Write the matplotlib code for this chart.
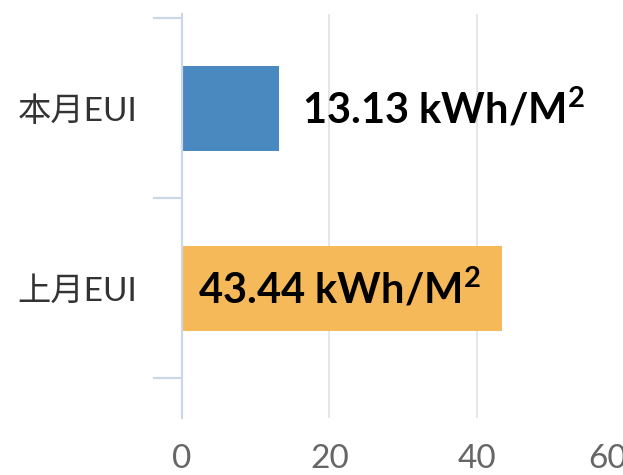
import matplotlib
matplotlib.use("Agg")
import matplotlib.pyplot as plt
from matplotlib.transforms import offset_copy, ScaledTranslation

categories = ["本月EUI", "上月EUI"]
values = [13.13, 43.44]
value_texts = ["13.13", "43.44"]
unit_text = r" kWh/M$^{\mathbf{2}}$"
colors = ["#4a88c0", "#f6b95a"]
x_ticks = [0, 20, 40, 60]

plt.rcParams['font.family'] = ['Lato', 'Noto Sans CJK SC', 'DejaVu Sans']
plt.rcParams['mathtext.fontset'] = 'custom'
plt.rcParams['mathtext.rm'] = 'Lato'
plt.rcParams['mathtext.bf'] = 'Lato:bold'

W, H = 623, 475
fig = plt.figure(figsize=(W / 100, H / 100), dpi=100)
left_px, right_px, top_px, bot_px = 182, 624, 14, 418
ax = fig.add_axes([left_px / W, 1 - bot_px / H, (right_px - left_px) / W, (bot_px - top_px) / H])

ypos = list(range(len(categories)))
ax.barh(ypos, values, height=0.47, color=colors, zorder=3)

ax.set_xlim(0, 60)
ax.set_ylim(1.72, -0.525)

for s in ["top", "right", "bottom"]:
    ax.spines[s].set_visible(False)
ax.spines["left"].set_color("#ccd6eb")
ax.spines["left"].set_linewidth(1.6)
ax.spines["left"].set_zorder(4)

ax.set_xticks(x_ticks)
ax.set_xticklabels([str(t) for t in x_ticks])
ax.tick_params(axis="x", length=0, pad=19, labelsize=24, labelcolor="#666666")
ax.xaxis.grid(True, color="#e6e6e6", linewidth=1.4, zorder=0)
last = ax.get_xticklabels()[-1]
last.set_transform(last.get_transform() + ScaledTranslation(-16 / 100, 0, fig.dpi_scale_trans))

ax.set_yticks(ypos)
ax.set_yticklabels(categories)
ax.tick_params(axis="y", which="major", length=0, pad=32, labelsize=24, labelcolor="#333333")
ax.set_yticks([-0.5, 0.5, 1.5], minor=True)
ax.tick_params(axis="y", which="minor", length=21, width=1.6, color="#ccd6eb", direction="out")

for i, (v, lab) in enumerate(zip(values, value_texts)):
    full = lab + unit_text
    if v < 30:
        tr = offset_copy(ax.transData, fig=fig, x=23, y=0, units="dots")
        ax.text(v, i, full, transform=tr, ha="left", va="center", fontsize=30,
                fontweight="bold", color="#000000", zorder=5)
    else:
        tr = offset_copy(ax.transData, fig=fig, x=16, y=0, units="dots")
        ax.text(0, i, full, transform=tr, ha="left", va="center", fontsize=30,
                fontweight="bold", color="#000000", zorder=5)

fig.savefig("out.png", dpi=100)
